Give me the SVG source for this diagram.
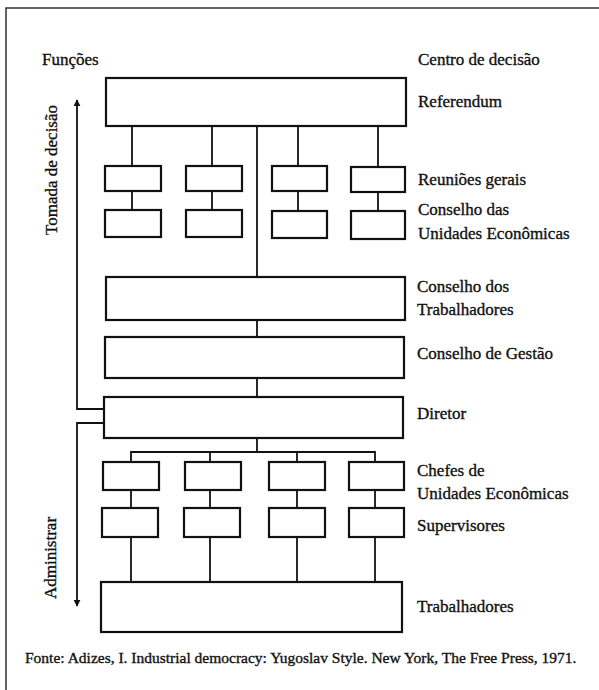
<svg xmlns="http://www.w3.org/2000/svg" width="599" height="690" viewBox="0 0 599 690">
<style>
.bx{fill:#fff;stroke:#111;stroke-width:2.2}
.ln{fill:none;stroke:#111;stroke-width:1.8}
.fr{fill:none;stroke:#222;stroke-width:1.4}
.tx{font-family:'Liberation Serif','DejaVu Serif',serif;font-size:17px;fill:#111;stroke:#111;stroke-width:0.35}
.ft{font-size:15.5px}
</style>
<defs>
<marker id="ah" viewBox="0 0 10 10" refX="9" refY="5" markerWidth="7" markerHeight="10" markerUnits="userSpaceOnUse" orient="auto">
<path d="M0,0 L10,5 L0,10 z" fill="#111"/>
</marker>
</defs>
<rect class="fr" x="6" y="8" width="620" height="720"/>
<g id="headers" class="tx">
<text x="42" y="65">Funções</text>
<text x="418" y="65">Centro de decisão</text>
</g>
<g id="connectors">
<line class="ln" x1="132" y1="126" x2="132" y2="166"/>
<line class="ln" x1="212" y1="126" x2="212" y2="166"/>
<line class="ln" x1="298" y1="126" x2="298" y2="166"/>
<line class="ln" x1="378" y1="126" x2="378" y2="166"/>
<line class="ln" x1="132" y1="191" x2="132" y2="210"/>
<line class="ln" x1="212" y1="191" x2="212" y2="210"/>
<line class="ln" x1="298" y1="191" x2="298" y2="211"/>
<line class="ln" x1="378" y1="192" x2="378" y2="211"/>
<line class="ln" x1="257" y1="126" x2="257" y2="277"/>
<line class="ln" x1="257" y1="320" x2="257" y2="337"/>
<line class="ln" x1="257" y1="378" x2="257" y2="397"/>
<line class="ln" x1="257" y1="438" x2="257" y2="452"/>
<polyline class="ln" points="131,462 131,452 375,452 375,462"/>
<line class="ln" x1="210" y1="452" x2="210" y2="462"/>
<line class="ln" x1="297" y1="452" x2="297" y2="462"/>
<line class="ln" x1="131" y1="490" x2="131" y2="508"/>
<line class="ln" x1="210" y1="490" x2="210" y2="508"/>
<line class="ln" x1="297" y1="490" x2="297" y2="508"/>
<line class="ln" x1="375" y1="490" x2="375" y2="508"/>
<line class="ln" x1="131" y1="537" x2="131" y2="582"/>
<line class="ln" x1="210" y1="537" x2="210" y2="582"/>
<line class="ln" x1="297" y1="537" x2="297" y2="582"/>
<line class="ln" x1="375" y1="537" x2="375" y2="582"/>
<polyline class="ln" points="104,409 77,409 77,100" marker-end="url(#ah)"/>
<polyline class="ln" points="104,423 77,423 77,606" marker-end="url(#ah)"/>
</g>
<g id="referendum">
<rect class="bx" x="106" y="78" width="300" height="48"/>
<text class="tx" x="418" y="107">Referendum</text>
</g>
<g id="reunioes-gerais">
<rect class="bx" x="105" y="166" width="56" height="25"/>
<rect class="bx" x="186" y="166" width="56" height="25"/>
<rect class="bx" x="272" y="166" width="55" height="25"/>
<rect class="bx" x="351" y="167" width="54" height="25"/>
<text class="tx" x="418" y="185">Reuniões gerais</text>
</g>
<g id="conselho-unidades">
<rect class="bx" x="105" y="210" width="56" height="27"/>
<rect class="bx" x="186" y="210" width="56" height="27"/>
<rect class="bx" x="272" y="211" width="55" height="27"/>
<rect class="bx" x="351" y="211" width="54" height="28"/>
<text class="tx" x="418" y="215">Conselho das</text>
<text class="tx" x="418" y="239">Unidades Econômicas</text>
</g>
<g id="conselho-trabalhadores">
<rect class="bx" x="106" y="277" width="299" height="43"/>
<text class="tx" x="417" y="292">Conselho dos</text>
<text class="tx" x="417" y="315">Trabalhadores</text>
</g>
<g id="conselho-gestao">
<rect class="bx" x="105" y="337" width="299" height="41"/>
<text class="tx" x="417" y="359">Conselho de Gestão</text>
</g>
<g id="diretor">
<rect class="bx" x="104" y="397" width="299" height="41"/>
<text class="tx" x="417" y="419">Diretor</text>
</g>
<g id="chefes">
<rect class="bx" x="103" y="462" width="56" height="28"/>
<rect class="bx" x="185" y="462" width="56" height="28"/>
<rect class="bx" x="269" y="462" width="56" height="28"/>
<rect class="bx" x="349" y="462" width="55" height="28"/>
<text class="tx" x="417" y="476">Chefes de</text>
<text class="tx" x="417" y="499">Unidades Econômicas</text>
</g>
<g id="supervisores">
<rect class="bx" x="102" y="508" width="56" height="29"/>
<rect class="bx" x="184" y="508" width="56" height="29"/>
<rect class="bx" x="269" y="508" width="56" height="29"/>
<rect class="bx" x="349" y="508" width="55" height="29"/>
<text class="tx" x="417" y="531">Supervisores</text>
</g>
<g id="trabalhadores">
<rect class="bx" x="101" y="582" width="301" height="50"/>
<text class="tx" x="417" y="612">Trabalhadores</text>
</g>
<g id="functions" class="tx">
<text transform="translate(57,170) rotate(-90)" text-anchor="middle">Tomada de decisão</text>
<text transform="translate(56,558) rotate(-90)" text-anchor="middle">Administrar</text>
</g>
<g id="footer">
<text class="tx ft" x="25" y="663">Fonte:  Adizes, I. Industrial democracy: Yugoslav Style. New York, The Free Press, 1971.</text>
</g>
</svg>
